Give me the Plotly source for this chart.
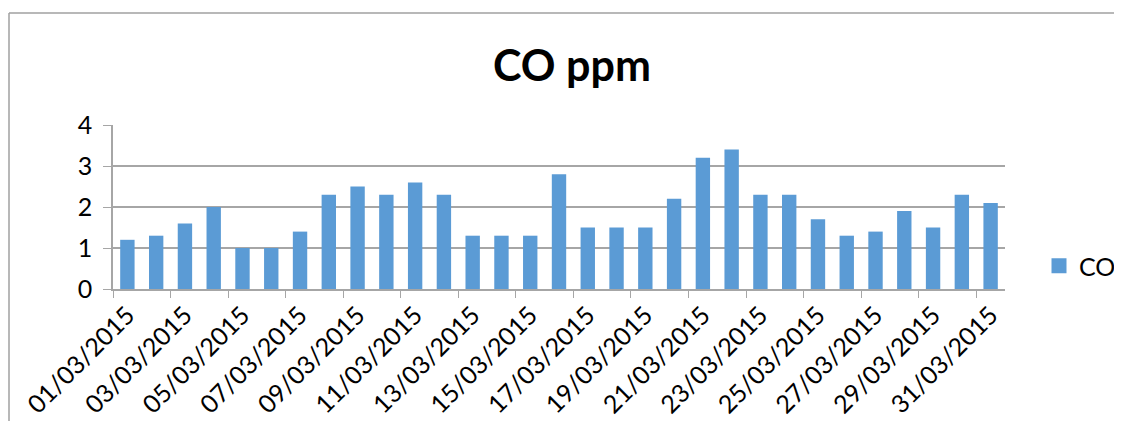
import plotly.graph_objects as go

dates = [f"{d:02d}/03/2015" for d in range(1, 32)]
co_values = [1.2, 1.3, 1.6, 2.0, 1.0, 1.0, 1.4, 2.3, 2.5, 2.3, 2.6, 2.3, 1.3, 1.3, 1.3,
             2.8, 1.5, 1.5, 1.5, 2.2, 3.2, 3.4, 2.3, 2.3, 1.7, 1.3, 1.4, 1.9, 1.5, 2.3, 2.1]
series_name = "CO"
title_text = "CO ppm"
y_ticks = [0, 1, 2, 3, 4]

OFF = 8  # page body margin
W, H = 1122 - 2 * OFF, 429 - 2 * OFF
L, R, T, B = 113 - OFF, 1005 - OFF, 125 - OFF, 289 - OFF
FONT = "Lato"
GRID = "#A6A6A6"
BAR = "#5B9BD5"

fig = go.Figure()
fig.add_trace(go.Bar(x=dates, y=co_values, name=series_name, marker_color=BAR,
                     marker_line_width=0, showlegend=False))
# legend entry with a larger square swatch
fig.add_trace(go.Scatter(x=[None], y=[None], mode="markers", name=series_name,
                         marker=dict(symbol="square", size=15, color=BAR),
                         showlegend=True, hoverinfo="skip"))

def px_x(px):
    return (px - OFF - L) / (R - L)

def px_y(py):
    return (B - (py - OFF)) / (B - T)

fig.update_layout(
    width=W, height=H,
    margin=dict(l=L, r=W - R, t=T, b=H - B, pad=0, autoexpand=False),
    paper_bgcolor="white", plot_bgcolor="white",
    bargap=0.5,
    title=dict(text=f"<b>{title_text}</b>", x=(572 - OFF) / W, xanchor="center",
               y=1 - (66 - OFF) / H, yanchor="middle",
               font=dict(family=FONT, size=43, color="black")),
    font=dict(family=FONT, color="black"),
    legend=dict(x=px_x(1039), y=px_y(266), xanchor="left", yanchor="middle",
                font=dict(family=FONT, size=25, color="black"),
                itemwidth=30, bgcolor="rgba(0,0,0,0)"),
    xaxis=dict(type="category", tickmode="linear", tick0=0, dtick=2,
               tickson="boundaries", ticks="outside", ticklen=7, tickcolor=GRID,
               tickangle=-45, tickfont=dict(family=FONT, size=25, color="black"),
               showline=True, linecolor=GRID, linewidth=1.5, showgrid=False,
               automargin=False, range=[-0.5, len(dates) - 0.5]),
    yaxis=dict(range=[0, 4], tickvals=y_ticks, ticks="outside", ticklen=8,
               tickcolor=GRID, showline=True, linecolor=GRID, linewidth=1.5,
               showgrid=True, gridcolor=GRID, gridwidth=1.5, zeroline=False,
               automargin=False,
               tickfont=dict(family=FONT, size=25, color="black"), ticklabelstandoff=6),
    shapes=[
        dict(type="line", xref="paper", yref="paper", x0=px_x(9), x1=px_x(1130),
             y0=px_y(13), y1=px_y(13), line=dict(color="#A0A0A0", width=1.5)),
        dict(type="line", xref="paper", yref="paper", x0=px_x(9), x1=px_x(9),
             y0=px_y(13), y1=px_y(440), line=dict(color="#A0A0A0", width=1.5)),
    ],
)

fig.write_html("out.html")
